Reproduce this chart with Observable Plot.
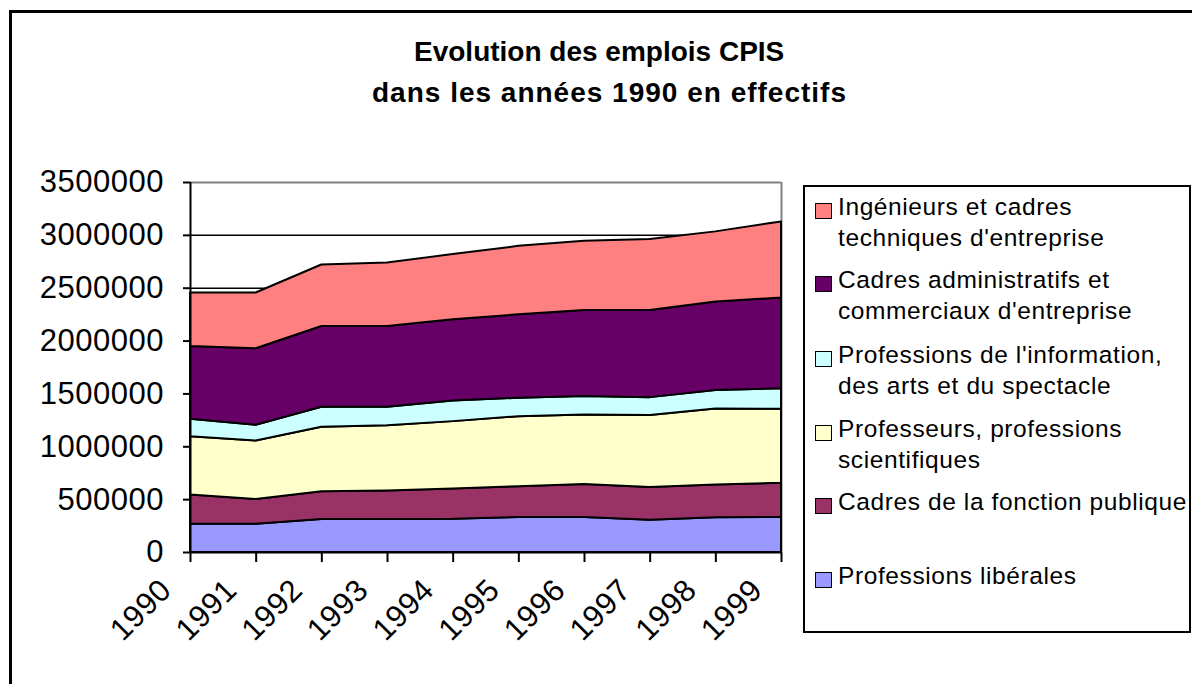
<!DOCTYPE html>
<html>
<head>
<meta charset="utf-8">
<script src="https://cdn.jsdelivr.net/npm/d3@7"></script>
<script src="https://cdn.jsdelivr.net/npm/@observablehq/plot@0.6"></script>
<style>
  html, body { margin: 0; padding: 0; background: white; }
  #page { position: relative; width: 1192px; height: 684px; overflow: hidden; background: white; font-family: "Liberation Sans", Arial, sans-serif; }
  #border { position: absolute; left: 9px; top: 10px; width: 1300px; height: 800px; border-left: 3px solid black; border-top: 3px solid black; box-sizing: border-box; pointer-events: none; }
  .title { position: absolute; font-weight: bold; font-size: 28px; line-height: 28px; white-space: nowrap; color: black; }
  #chart { position: absolute; left: 0; top: 150px; }
  #legend { position: absolute; left: 803px; top: 185px; width: 388px; height: 448px; border: 2px solid black; box-sizing: border-box; background: white; }
  .lg-sw { position: absolute; width: 17px; height: 16px; border: 1.5px solid black; box-sizing: border-box; }
  .lg-tx { position: absolute; font-size: 24.5px; line-height: 31.5px; letter-spacing: 0.6px; white-space: nowrap; color: black; }
</style>
</head>
<body>
<div id="page">
  <div id="chart"></div>
  <div class="title" id="t1" style="left:414px; top:37.5px;">Evolution des emplois CPIS</div>
  <div class="title" id="t2" style="left:372px; top:78.5px; letter-spacing:1px;">dans les années 1990 en effectifs</div>
  <div id="legend"></div>
  <div id="border"></div>
</div>
<script>
// ---- Data ----
const years = [1990, 1991, 1992, 1993, 1994, 1995, 1996, 1997, 1998, 1999];
const seriesNames = [
  "Professions libérales",
  "Cadres de la fonction publique",
  "Professeurs, professions scientifiques",
  "Professions de l'information, des arts et du spectacle",
  "Cadres administratifs et commerciaux d'entreprise",
  "Ingénieurs et cadres techniques d'entreprise"
];
const liberales        = [268000, 268000, 313000, 313000, 315000, 332000, 332000, 306000, 328000, 332000];
const fonctionPublique = [275000, 234000, 261000, 268000, 285000, 290000, 312000, 310000, 310000, 322000];
const professeurs      = [553000, 553000, 611000, 619000, 638000, 663000, 657000, 679000, 720000, 701000];
const information      = [164000, 149000, 189000, 174000, 196000, 174000, 174000, 170000, 174000, 193000];
const administratifs   = [688000, 723000, 764000, 764000, 768000, 790000, 815000, 825000, 837000, 859000];
const ingenieurs       = [507000, 528000, 582000, 601000, 616000, 647000, 654000, 670000, 664000, 720000];
const seriesColors = ["#9999FF", "#993366", "#FFFFCC", "#CCFFFF", "#660066", "#FF8080"];
const yTicks = [0, 500000, 1000000, 1500000, 2000000, 2500000, 3000000, 3500000];
const gridTicks = [500000, 1000000, 1500000, 2000000, 2500000, 3000000];

// legend (top to bottom), with line breaks as in the picture
const legendItems = [
  {name: seriesNames[5], lines: ["Ingénieurs et cadres", "techniques d'entreprise"]},
  {name: seriesNames[4], lines: ["Cadres administratifs et", "commerciaux d'entreprise"]},
  {name: seriesNames[3], lines: ["Professions de l'information,", "des arts et du spectacle"]},
  {name: seriesNames[2], lines: ["Professeurs, professions", "scientifiques"]},
  {name: seriesNames[1], lines: ["Cadres de la fonction publique"]},
  {name: seriesNames[0], lines: ["Professions libérales"]}
];

const allSeries = [liberales, fonctionPublique, professeurs, information, administratifs, ingenieurs];
const data = [];
seriesNames.forEach((name, i) => {
  years.forEach((yr, j) => data.push({year: yr, value: allSeries[i][j], series: name}));
});

const font = "Liberation Sans, Arial, sans-serif";
const plot = Plot.plot({
  width: 1192,
  height: 534,
  marginLeft: 190,
  marginRight: 411,
  marginTop: 32,
  marginBottom: 132,
  style: {fontFamily: font, fontSize: "31px", letterSpacing: "0.5px", color: "black", background: "transparent", overflow: "visible"},
  x: {type: "linear", domain: [1990, 1999], axis: null},
  y: {domain: [0, 3500000], axis: null},
  color: {domain: seriesNames, range: seriesColors},
  marks: [
    Plot.ruleY(gridTicks, {stroke: "black", strokeWidth: 1.5}),
    Plot.ruleY([3500000], {stroke: "#808080", strokeWidth: 2}),
    Plot.ruleX([1999], {stroke: "#808080", strokeWidth: 2}),
    Plot.areaY(data, {x: "year", y: "value", fill: "series", z: "series", order: seriesNames,
      stroke: "black", strokeWidth: 2, strokeLinejoin: "round"}),
    Plot.ruleX([1990], {stroke: "black", strokeWidth: 2}),
    Plot.ruleY([0], {stroke: "black", strokeWidth: 2}),
    Plot.axisY({ticks: yTicks, tickSize: 7, tickFormat: () => "", strokeWidth: 2, label: null}),
    Plot.axisX({ticks: years, tickSize: 10, tickFormat: () => "", strokeWidth: 2, label: null}),
    Plot.text(yTicks, {frameAnchor: "left", y: d => d, text: d => String(d), textAnchor: "end",
      lineAnchor: "middle", dx: -26.5, fontSize: 31, fontFamily: font, fill: "black"}),
    Plot.text(years, {x: d => d, frameAnchor: "bottom", text: d => String(d), rotate: -45,
      textAnchor: "end", lineAnchor: "bottom", dx: -17.5, dy: 39.5, fontSize: 31, fontFamily: font, fill: "black"})
  ]
});
document.getElementById("chart").appendChild(plot);

// legend
const legend = document.getElementById("legend");
const legendLeft = 803, legendTop = 185;
const baselines = [212.5, 285.5, 360.5, 434.5, 508, 581.5];
legendItems.forEach((item, i) => {
  const color = seriesColors[seriesNames.indexOf(item.name)];
  const sw = document.createElement("div");
  sw.className = "lg-sw";
  sw.style.left = (813 - legendLeft) + "px";
  sw.style.top = (baselines[i] - 12 - legendTop) + "px";
  sw.style.background = color;
  legend.appendChild(sw);
  const tx = document.createElement("div");
  tx.className = "lg-tx";
  tx.style.left = (836 - legendLeft) + "px";
  tx.style.top = (baselines[i] - 23.9 - legendTop) + "px";
  tx.innerHTML = item.lines.join("<br>");
  legend.appendChild(tx);
});
</script>
</body>
</html>
